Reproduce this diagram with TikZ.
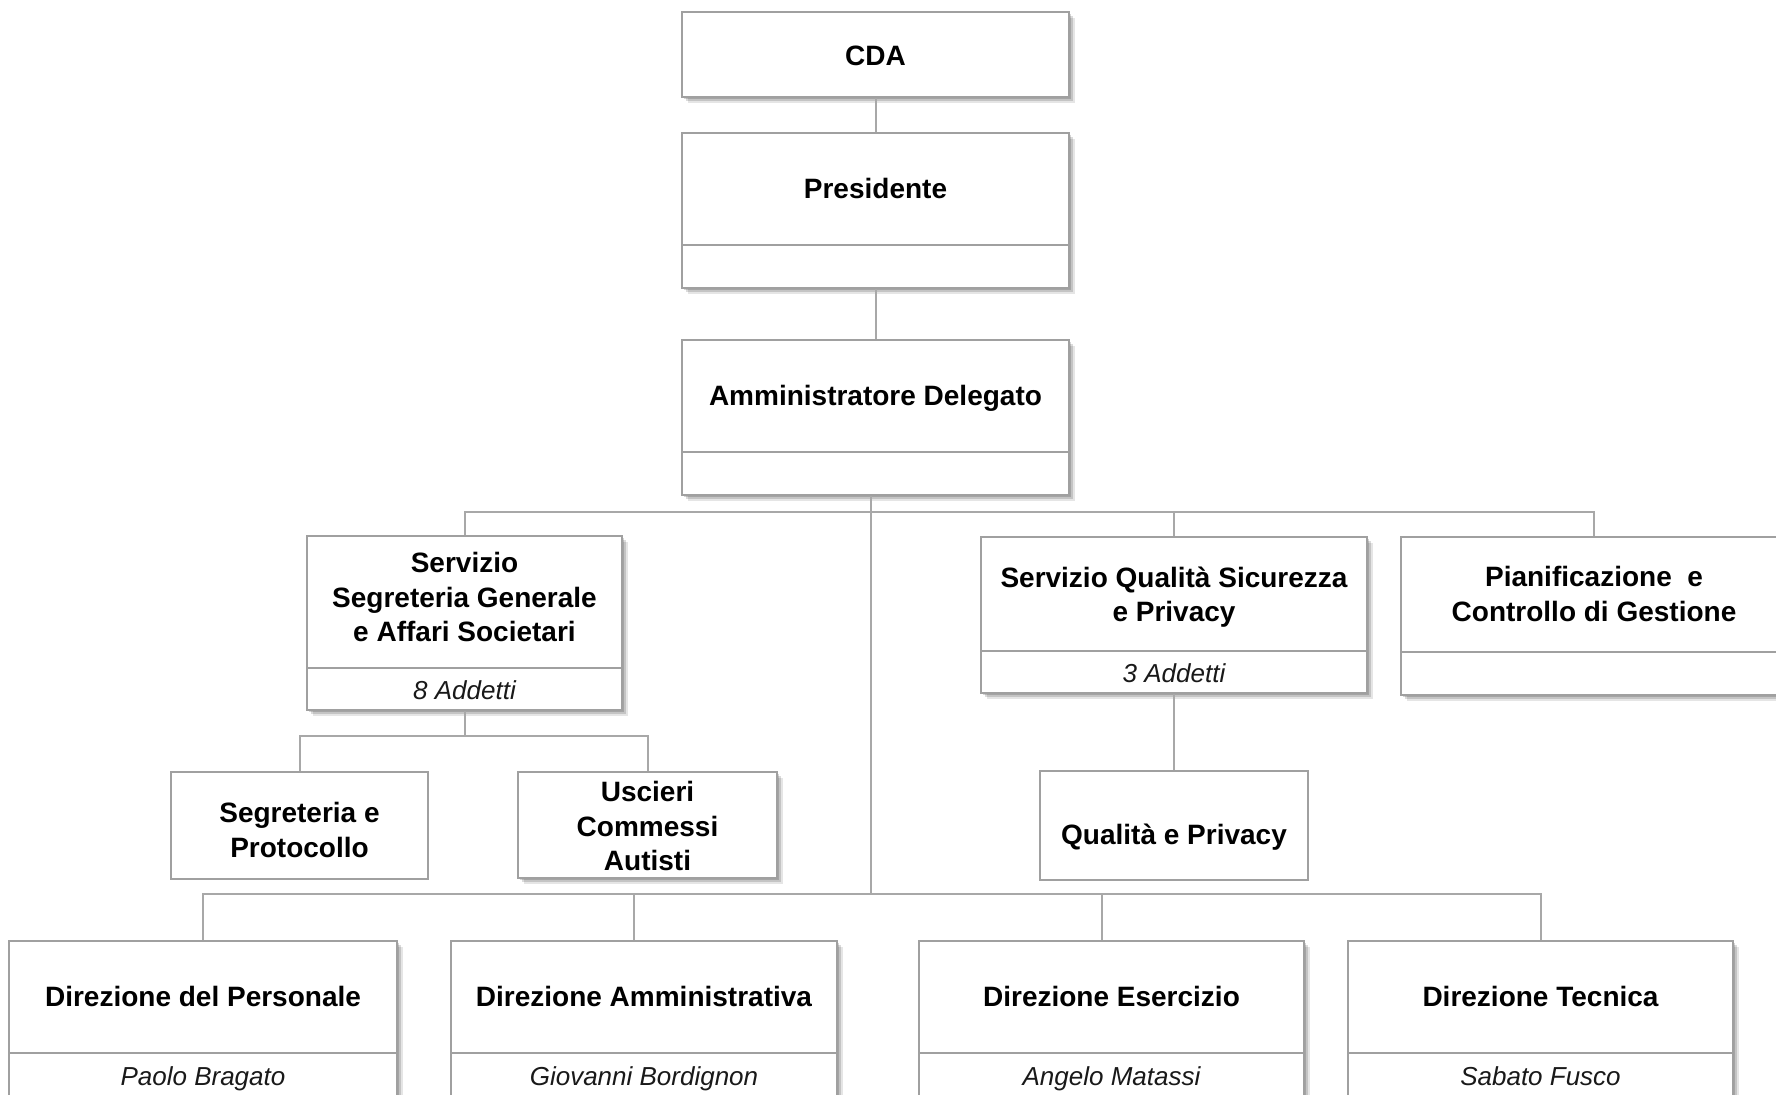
\documentclass[tikz,border=0pt]{standalone}
\usepackage{fontspec}
\setmainfont{Liberation Sans}
\usetikzlibrary{fit,shadows,calc}
\definecolor{bordergray}{HTML}{A0A0A0}
\definecolor{linegray}{HTML}{A8A8A8}
\begin{document}
\begin{tikzpicture}[x=0.5pt,y=-0.5pt,
  box/.style={draw=bordergray, line width=1pt, fill=white, inner sep=0pt},
  shad/.style={drop shadow={shadow xshift=3pt, shadow yshift=-3pt, fill=black, opacity=0.10},
               drop shadow={shadow xshift=2pt, shadow yshift=-2pt, fill=black, opacity=0.14},
               drop shadow={shadow xshift=1.2pt, shadow yshift=-1.2pt, fill=black, opacity=0.16}},
  btxt/.style={font=\fontsize{14}{17.25}\selectfont\bfseries, align=center, inner sep=0pt, text=black},
  itxt/.style={font=\fontsize{13}{15}\selectfont\itshape, inner sep=0pt, text=black!90,
               text height=0.72em, text depth=0.21em},
  conn/.style={draw=linegray, line width=1pt},
  divl/.style={draw=bordergray, line width=1pt}]
\useasboundingbox (0,0) rectangle (1776,1095);
\fill[white] (0,0) rectangle (1776,1095);

% top chain
\node[box,shad,fit={(682,12) (1069,97)}] (cda) {};
\node[btxt] (tcda) at (875.5,56) {CDA};

\node[box,shad,fit={(682,133) (1069,288)}] (pres) {};
\draw[divl] (pres.west |- 0,245) -- (pres.east |- 0,245);
\node[btxt] (tpres) at (875.5,188) {Presidente};

\node[box,shad,fit={(682,340) (1069,495)}] (ad) {};
\draw[divl] (ad.west |- 0,452) -- (ad.east |- 0,452);
\node[btxt] (tad) at (875.5,398) {Amministratore Delegato};

% staff level
\node[box,shad,fit={(307,536) (622,710)}] (sg) {};
\draw[divl] (sg.west |- 0,668) -- (sg.east |- 0,668);
\node[btxt] (tsg) at (464.5,597) {Servizio\\Segreteria Generale\\e Affari Societari};
\node[itxt] (isg) at (464.5,694) {8 Addetti};

\node[box,shad,fit={(981,537) (1367,693)}] (sq) {};
\draw[divl] (sq.west |- 0,651) -- (sq.east |- 0,651);
\node[btxt] (tsq) at (1174,597) {Servizio Qualità Sicurezza\\e Privacy};
\node[itxt] (isq) at (1174,677) {3 Addetti};

\node[box,shad,fit={(1401,537) (1787,695)}] (pc) {};
\draw[divl] (pc.west |- 0,652) -- (pc.east |- 0,652);
\node[btxt] (tpc) at (1594,594) {Pianificazione~~e\\Controllo di Gestione};

% sub-units
\node[box,fit={(171,772) (428,879)}] (sp) {};
\node[btxt] (tsp) at (299.5,830) {Segreteria e\\Protocollo};

\node[box,shad,fit={(518,772) (777,878)}] (us) {};
\node[btxt] (tus) at (647.5,826) {Uscieri\\Commessi\\Autisti};

\node[box,fit={(1040,771) (1308,880)}] (qp) {};
\node[btxt] (tqp) at (1174,837) {Qualità e Privacy};

% direzioni
\node[box,shad,fit={(9,941) (397,1100)}] (dp) {};
\draw[divl] (dp.west |- 0,1053) -- (dp.east |- 0,1053);
\node[btxt] (tdp) at (203,996) {Direzione del Personale};
\node[itxt] (idp) at (203,1080) {Paolo Bragato};

\node[box,shad,fit={(451,941) (837,1100)}] (dam) {};
\draw[divl] (dam.west |- 0,1053) -- (dam.east |- 0,1053);
\node[btxt] (tdam) at (644,996) {Direzione Amministrativa};
\node[itxt] (idam) at (644,1080) {Giovanni Bordignon};

\node[box,shad,fit={(919,941) (1304,1100)}] (des) {};
\draw[divl] (des.west |- 0,1053) -- (des.east |- 0,1053);
\node[btxt] (tdes) at (1111.5,996) {Direzione Esercizio};
\node[itxt] (ides) at (1111.5,1080) {Angelo Matassi};

\node[box,shad,fit={(1348,941) (1733,1100)}] (dt) {};
\draw[divl] (dt.west |- 0,1053) -- (dt.east |- 0,1053);
\node[btxt] (tdt) at (1540.5,996) {Direzione Tecnica};
\node[itxt] (idt) at (1540.5,1080) {Sabato Fusco};

% connectors
\coordinate (j1) at (871,512);
\coordinate (j2) at (871,894);
\coordinate (j3) at (464.5,736);
\draw[conn] (cda.south) -- (pres.north);
\draw[conn] (pres.south) -- (ad.north);
\draw[conn] (ad.south -| j1) -- (j2);
\draw[conn] (sg.north) -- (sg.north |- j1) -- (pc.north |- j1) -- (pc.north);
\draw[conn] (sq.north |- j1) -- (sq.north);
\draw[conn] (sg.south) -- (j3);
\draw[conn] (sp.north) -- (sp.north |- j3) -- (us.north |- j3) -- (us.north);
\draw[conn] (sq.south) -- (qp.north);
\draw[conn] (dp.north) -- (dp.north |- j2) -- (dt.north |- j2) -- (dt.north);
\draw[conn] ([xshift=-5pt]dam.north) -- ([xshift=-5pt]dam.north |- j2);
\draw[conn] ([xshift=-4.75pt]des.north) -- ([xshift=-4.75pt]des.north |- j2);
\end{tikzpicture}
\end{document}
